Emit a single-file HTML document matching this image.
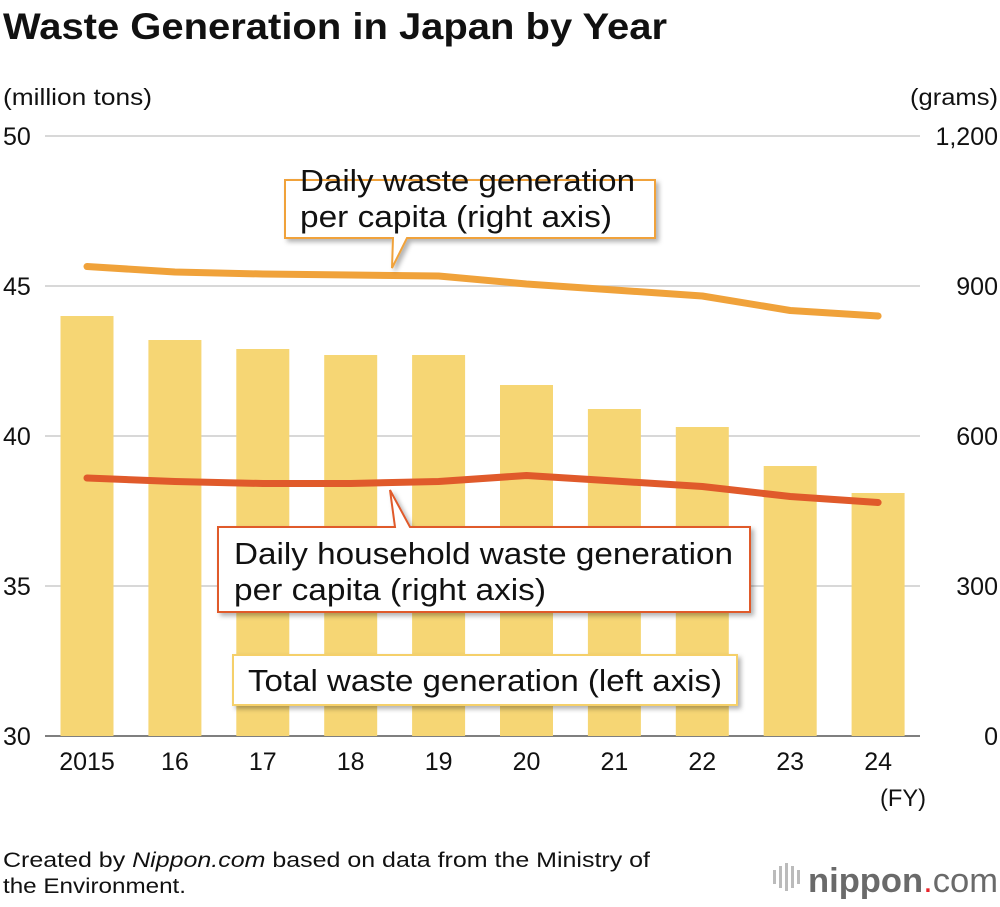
<!DOCTYPE html>
<html><head><meta charset="utf-8">
<style>
body{margin:0;background:#fff;font-family:"Liberation Sans",Arial,sans-serif;}
svg text{font-family:"Liberation Sans",Arial,sans-serif;}
</style></head>
<body>
<svg id="chart" width="1000" height="902" viewBox="0 0 1000 902" xmlns="http://www.w3.org/2000/svg">
<defs><filter id="sh" x="-10%" y="-10%" width="130%" height="140%"><feDropShadow dx="3" dy="3" stdDeviation="2.5" flood-color="#000" flood-opacity="0.3"/></filter></defs>
<text x="3" y="39" font-size="37" font-weight="bold" fill="#111" textLength="664" lengthAdjust="spacingAndGlyphs">Waste Generation in Japan by Year</text>
<text x="3" y="105" font-size="23" fill="#111" textLength="149" lengthAdjust="spacingAndGlyphs">(million tons)</text>
<text x="910" y="105" font-size="23" fill="#111" textLength="88" lengthAdjust="spacingAndGlyphs">(grams)</text>
<g id="grid"></g>
<g id="bars"></g>
<g id="lines"></g>
<g id="labels"></g>
<text x="880" y="806" font-size="24" fill="#111" textLength="46" lengthAdjust="spacingAndGlyphs">(FY)</text>

<g filter="url(#sh)">
<path d="M285,180 H655 V238 H407 L392,268 L393,238 H285 Z" fill="#fff" stroke="#f0a23a" stroke-width="2"/>
</g>
<text font-size="31" fill="#111"><tspan x="300" y="191" textLength="335" lengthAdjust="spacingAndGlyphs">Daily waste generation</tspan><tspan x="300" y="227" textLength="312" lengthAdjust="spacingAndGlyphs">per capita (right axis)</tspan></text>

<g filter="url(#sh)">
<path d="M218,527 H395 L390,490 L410,527 H750 V612 H218 Z" fill="#fff" stroke="#e05a2b" stroke-width="2"/>
</g>
<text font-size="31" fill="#111"><tspan x="234" y="564" textLength="499" lengthAdjust="spacingAndGlyphs">Daily household waste generation</tspan><tspan x="234" y="600" textLength="312" lengthAdjust="spacingAndGlyphs">per capita (right axis)</tspan></text>

<g filter="url(#sh)">
<rect x="233" y="655" width="504" height="50" fill="#fff" stroke="#f5d06a" stroke-width="2"/>
</g>
<text x="248" y="691" font-size="31" fill="#111" textLength="474" lengthAdjust="spacingAndGlyphs">Total waste generation (left axis)</text>

<text font-size="21" fill="#111"><tspan x="3" y="867" textLength="647" lengthAdjust="spacingAndGlyphs">Created by <tspan font-style="italic">Nippon.com</tspan> based on data from the Ministry of</tspan><tspan x="3" y="893" textLength="183" lengthAdjust="spacingAndGlyphs">the Environment.</tspan></text>
<g>
<g fill="#bbb"><rect x="773" y="870" width="3" height="14"/><rect x="779" y="866" width="3" height="22"/><rect x="785" y="863" width="3" height="28"/><rect x="791" y="866" width="3" height="22"/><rect x="797" y="870" width="3" height="14"/></g>
<text x="808" y="892" font-size="34" fill="#6a6a6a" font-family="DejaVu Sans,sans-serif" textLength="190" lengthAdjust="spacingAndGlyphs"><tspan font-weight="bold">nippon</tspan><tspan fill="#e8242b">.</tspan><tspan>com</tspan></text>
</g>
</svg>
<script>
const years=["2015","16","17","18","19","20","21","22","23","24"];
const totalWaste=[44.0,43.2,42.9,42.7,42.7,41.7,40.9,40.3,39.0,38.1];
const dailyWaste=[939,928,924,922,920,904,892,880,851,840];
const householdWaste=[516,509,505,505,509,521,510,499,479,467];
const leftTicks=[30,35,40,45,50];
const rightTickLabels=["0","300","600","900","1,200"];
const rightTickValues=[0,300,600,900,1200];

const NS="http://www.w3.org/2000/svg";
const x0=45,x1=920,yTop=136,yBot=736;
const xs=i=>87+i*87.9;
const yL=v=>yBot-(v-30)/20*(yBot-yTop);
const yR=v=>yBot-v/1200*(yBot-yTop);
function mk(t,a,p){const e=document.createElementNS(NS,t);for(const k in a)e.setAttribute(k,a[k]);p.appendChild(e);return e;}
const grid=document.getElementById('grid'),bars=document.getElementById('bars'),lines=document.getElementById('lines'),labels=document.getElementById('labels');
leftTicks.forEach((v,i)=>{
  const y=yL(v);
  const g=mk('line',{x1:x0,x2:x1,y1:y,y2:y,stroke:i===0?'#555':'#ccc','stroke-width':1.5},grid);
  
  
  const t=mk('text',{x:3,y:y+9,'font-size':25,fill:'#111'},labels);t.textContent=v;
  
  
});
rightTickValues.forEach((v,i)=>{
  const t=mk('text',{x:998,y:yR(v)+9,'font-size':25,fill:'#111','text-anchor':'end'},labels);t.textContent=rightTickLabels[i];
  
  
});
years.forEach((yr,i)=>{
  const top=yL(totalWaste[i]);
  const r=mk('rect',{x:xs(i)-26.5,y:top,width:53,height:yBot-top,fill:'#f6d674'},bars);
  
  
  const t=mk('text',{x:xs(i),y:770,'font-size':25,fill:'#111','text-anchor':'middle'},labels);t.textContent=yr;
  
  
});
function line(vals,color,name){
  const p=mk('polyline',{points:vals.map((v,i)=>xs(i)+','+yR(v)).join(' '),fill:'none',stroke:color,'stroke-width':7,'stroke-linecap':'round','stroke-linejoin':'round'},lines);
  
  
}
line(dailyWaste,'#f0a23a','line-daily-waste');
line(householdWaste,'#e05a2b','line-household-waste');
</script>
</body></html>
